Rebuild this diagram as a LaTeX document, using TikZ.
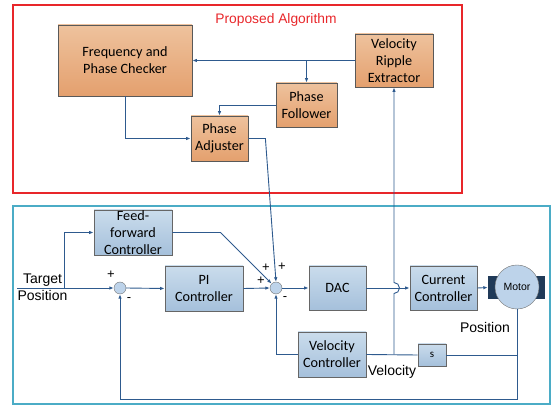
\documentclass[tikz,border=0pt]{standalone}
\usepackage{fontspec}
\setmainfont{Liberation Sans}
\newfontfamily\boxfont{Carlito}
\usetikzlibrary{arrows.meta}

\definecolor{algred}{HTML}{E8262A}
\definecolor{loopteal}{HTML}{4BACC6}
\definecolor{wirecol}{HTML}{2E5A8E}
\definecolor{orangetop}{HTML}{EEC29D}
\definecolor{orangebot}{HTML}{E4A06E}
\definecolor{bluetop}{HTML}{CADCEC}
\definecolor{bluebot}{HTML}{A5C0DB}
\definecolor{motordark}{HTML}{203A58}
\definecolor{sumfill}{HTML}{BDD3EA}

\tikzset{
  algbox/.style={draw=black!65, line width=0.8pt, top color=orangetop, bottom color=orangebot,
    font=\boxfont\fontsize{14.2}{17}\selectfont, align=center, inner sep=0pt},
  ctrlbox/.style={draw=black!60, line width=0.8pt, top color=bluetop, bottom color=bluebot,
    font=\boxfont\fontsize{14.2}{17}\selectfont, align=center, inner sep=0pt},
  sumnode/.style={circle, draw=black!55, fill=sumfill, minimum size=12pt, inner sep=0pt},
  wire/.style={draw=wirecol, line width=0.9pt},
  arr/.style={wire, -{Latex[length=4.5pt,width=3.5pt]}},
  signlabel/.style={font=\fontsize{13}{13}\selectfont, inner sep=0pt}
}

\begin{document}
\begin{tikzpicture}[x=1pt, y=-1pt]
        \useasboundingbox (0,0) rectangle (555,406);

        \draw[algred, line width=1.4pt] (13,5) rectangle (462,193);
        \draw[loopteal, line width=1.4pt] (13,206) rectangle (550,404);
        \node[text=algred, font=\fontsize{13.8}{16}\selectfont] (algtitle) at (276,20) {Proposed Algorithm};

        \node[algbox, minimum width=134pt, minimum height=71pt] (fpc) at (125,60.5) {Frequency and\\Phase Checker};
        \node[algbox, minimum width=57pt, minimum height=45pt] (padj) at (219.5,138.5) {Phase\\Adjuster};
        \node[algbox, minimum width=61pt, minimum height=44pt] (pfol) at (306.5,105) {Phase\\Follower};
        \node[algbox, minimum width=78pt, minimum height=53pt] (vre) at (394,60.5) {Velocity\\Ripple\\Extractor};

        \node[ctrlbox, minimum width=78pt, minimum height=45pt] (ffwd) at (133,232.5) {Feed-\\forward\\Controller};
        \node[ctrlbox, minimum width=78pt, minimum height=45pt] (pictrl) at (204,288.5) {PI\\Controller};
        \node[ctrlbox, minimum width=57pt, minimum height=44pt] (dac) at (337.5,288) {DAC};
        \node[ctrlbox, minimum width=67pt, minimum height=44pt] (curctrl) at (443.5,288) {Current\\Controller};
        \node[ctrlbox, minimum width=68pt, minimum height=45pt] (velctrl) at (332,354.5) {Velocity\\Controller};
        \node[ctrlbox, minimum width=28pt, minimum height=22pt, font=\boxfont\fontsize{11}{13}\selectfont] (sblock) at (432,355) {s};

        \node[sumnode] (sum1) at (120,288) {};
        \node[sumnode] (sum2) at (276,288) {};

        \node[fill=motordark, minimum width=57pt, minimum height=23pt, inner sep=0pt] (motorcase) at (516.5,287.5) {};
        \node[circle, draw=black!55, fill=sumfill, minimum size=44pt, inner sep=0pt, font=\fontsize{10.5}{12}\selectfont] (motor) at (517,287) {Motor};

        \coordinate (tgt) at (17,288);
        \coordinate (tgtsplit) at (64,288);
        \coordinate (fbk) at (517,399);
        \coordinate (velsplit) at (394,354.5);

        \draw[arr] (vre.west) -- (fpc.east);
        \draw[arr] (pfol.north |- vre.west) -- (pfol.north);
        \draw[arr] (pfol.west) -| (padj.north);
        \draw[arr] (fpc.south) |- (padj.west);
        \draw[arr] (padj.east) -- ++(17,0) -- (sum2.north);

        \draw[arr] (tgt) -- (sum1.west);
        \draw[arr] (tgtsplit) |- (ffwd.west);
        \draw[arr] (ffwd.east) -- ++(48,0) -- (sum2.north west);
        \draw[arr] (sum1.east) -- (pictrl.west);
        \draw[arr] (pictrl.east) -- (sum2.west);
        \draw[arr] (sum2.east) -- (dac.west);
        \draw[arr] (dac.east) -- (curctrl.west);
        \draw[arr] (curctrl.east) -- (motorcase.west);

        \draw[arr] (motor.south) -- (fbk) -| (sum1.south);
        \draw[wire] (sblock.east) -- (motor.south |- sblock.east);
        \draw[wire] (sblock.west) -- (velctrl.east);
        \draw[arr] (velctrl.west) -| (sum2.south);
        \draw[arr] (velsplit) -- (394,293.5) arc[start angle=-90, end angle=90, radius=5.5pt] -- (vre.south);

        \node[align=center, font=\fontsize{14}{17}\selectfont] (tgtlabel) at (42.5,287) {Target\\Position};
        \node[font=\fontsize{14}{17}\selectfont] (poslabel) at (485,327) {Position};
        \node[font=\fontsize{14}{17}\selectfont] (vellabel) at (392,372) {Velocity};

        \foreach \x/\y/\s in {111/275/+, 129/300/-, 266/268/+, 261/281/+, 282/267/+, 285/299/-}
        {
                \node[signlabel] at (\x,\y) {\s};
        }

\end{tikzpicture}
\end{document}
